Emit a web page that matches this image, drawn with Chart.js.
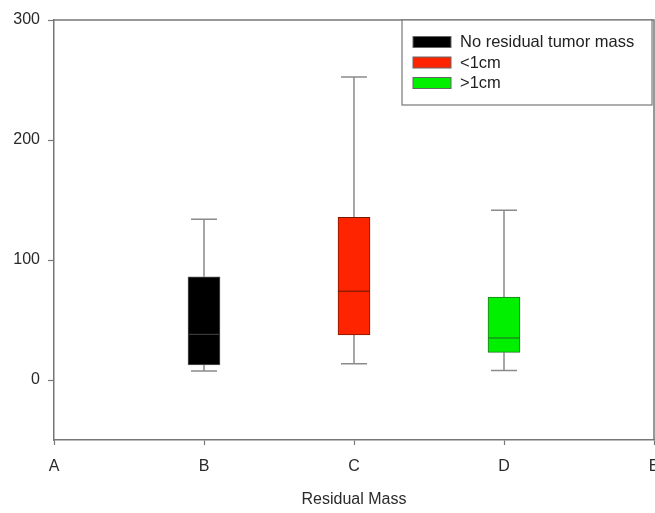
<!DOCTYPE html>
<html>
<head>
<meta charset="utf-8">
<script src="https://cdn.jsdelivr.net/npm/chart.js@4/dist/chart.umd.min.js"></script>
<style>
  html, body { margin: 0; padding: 0; background: #fff; }
  #wrap { width: 655px; height: 513px; }
</style>
</head>
<body>
<div id="wrap"><canvas id="myChart1" width="655" height="513"></canvas></div>
<script>
// box plot data ==================================================
const categories = ["A", "B", "C", "D", "E"];
const groups = ["No residual tumor mass", "<1cm", ">1cm"];
const groupAt = ["B", "C", "D"];
const whiskerLow = [7.5, 13.5, 8];
const q1 = [12.5, 37.5, 23];
const median = [38, 74, 35];
const q3 = [86, 135.5, 69];
const whiskerHigh = [134, 252.5, 141.5];
const yTicks = [0, 100, 200, 300];
const boxColors = ["#000000", "#ff2400", "#00f000"];
const boxEdges = ["#555555", "#7a1a00", "#1f7a1f"];

const datasets = groups.map(function (g, i) {
  return {
    label: g,
    data: categories.map(function (c) {
      return c === groupAt[i] ? [q1[i], q3[i]] : null;
    }),
    backgroundColor: boxColors[i],
    borderColor: boxEdges[i],
    borderWidth: 1,
    borderSkipped: false,
    barThickness: 32,
    grouped: false,
  };
});

// whiskers, medians, frame, legend
const boxPlugin = {
  id: "boxExtras",
  beforeDatasetsDraw(chart) {
    const ctx = chart.ctx;
    const x = chart.scales.x, y = chart.scales.y;
    ctx.save();
    ctx.strokeStyle = "#8a8a8a";
    ctx.lineWidth = 1.5;
    groups.forEach(function (g, i) {
      const px = Math.round(x.getPixelForValue(categories.indexOf(groupAt[i])));
      ctx.beginPath();
      ctx.moveTo(px, y.getPixelForValue(whiskerHigh[i]));
      ctx.lineTo(px, y.getPixelForValue(q3[i]));
      ctx.moveTo(px, y.getPixelForValue(q1[i]));
      ctx.lineTo(px, y.getPixelForValue(whiskerLow[i]));
      ctx.moveTo(px - 13, y.getPixelForValue(whiskerHigh[i]));
      ctx.lineTo(px + 13, y.getPixelForValue(whiskerHigh[i]));
      ctx.moveTo(px - 13, y.getPixelForValue(whiskerLow[i]));
      ctx.lineTo(px + 13, y.getPixelForValue(whiskerLow[i]));
      ctx.stroke();
    });
    ctx.restore();
  },
  afterDatasetsDraw(chart) {
    const ctx = chart.ctx;
    const x = chart.scales.x, y = chart.scales.y;
    const a = chart.chartArea;
    ctx.save();
    // medians
    ctx.lineWidth = 1.2;
    groups.forEach(function (g, i) {
      const px = x.getPixelForValue(categories.indexOf(groupAt[i]));
      const py = y.getPixelForValue(median[i]);
      ctx.strokeStyle = i === 0 ? "#3a3a3a" : boxEdges[i];
      ctx.beginPath();
      ctx.moveTo(px - 16, py);
      ctx.lineTo(px + 16, py);
      ctx.stroke();
    });
    // frame top / right
    ctx.strokeStyle = "#777";
    ctx.lineWidth = 1.5;
    ctx.beginPath();
    ctx.moveTo(a.left, a.top);
    ctx.lineTo(a.right, a.top);
    ctx.lineTo(a.right, a.bottom);
    ctx.stroke();
    // legend box
    const lx = 402, ly = 20, lw = 250, lh = 85;
    ctx.fillStyle = "#fff";
    ctx.fillRect(lx, ly, lw, lh);
    ctx.strokeStyle = "#777";
    ctx.lineWidth = 1.2;
    ctx.strokeRect(lx, ly, lw, lh);
    ctx.font = "16.5px 'Liberation Sans', Arial, sans-serif";
    ctx.textBaseline = "middle";
    chart.data.datasets.forEach(function (ds, i) {
      const ry = 42 + i * 20.5;
      ctx.fillStyle = ds.backgroundColor;
      ctx.fillRect(413, ry - 5.5, 38, 11);
      ctx.strokeStyle = "#666";
      ctx.lineWidth = 1;
      ctx.strokeRect(413, ry - 5.5, 38, 11);
      ctx.fillStyle = "#222";
      ctx.fillText(ds.label, 460, ry + 0.5);
    });
    ctx.restore();
  },
};

const config = {
  type: "bar",
  data: { labels: categories, datasets: datasets },
  options: {
    responsive: false,
    animation: false,
    layout: { autoPadding: false, padding: { top: 20, right: 1, left: 0, bottom: 0 } },
    plugins: { legend: { display: false }, tooltip: { enabled: false } },
    scales: {
      x: {
        type: "category",
        offset: false,
        grid: { offset: false, drawOnChartArea: false, tickLength: 5, color: "#777", tickWidth: 1.2 },
        border: { color: "#777", width: 1.5 },
        ticks: { color: "#2a2a2a", padding: 12, maxRotation: 0, autoSkip: false,
          font: { size: 16, family: "'Liberation Sans', Arial, sans-serif" } },
        title: { display: true, text: "Residual Mass", color: "#2a2a2a", padding: { top: 12 },
          font: { size: 16, family: "'Liberation Sans', Arial, sans-serif" } },
        afterFit: function (s) { s.height = 73; s.paddingLeft = 0; s.paddingRight = 0; },
      },
      y: {
        min: -50,
        max: 300,
        afterBuildTicks: function (s) { s.ticks = yTicks.map(function (v) { return { value: v }; }); },
        grid: { drawOnChartArea: false, tickLength: 6, color: "#777", tickWidth: 1.2 },
        border: { color: "#777", width: 1.5 },
        ticks: { color: "#2a2a2a", padding: 8,
          font: { size: 16, family: "'Liberation Sans', Arial, sans-serif" } },
        afterFit: function (s) { s.width = 54; },
      },
    },
  },
  plugins: [boxPlugin],
};

const myChart = new Chart(document.getElementById("myChart1"), config);
</script>
</body>
</html>
